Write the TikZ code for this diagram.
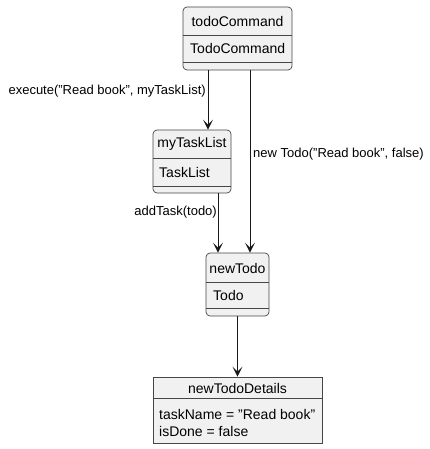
\documentclass[tikz,border=0pt]{standalone}
\usepackage{fontspec}
\setmainfont{Liberation Sans}
\usetikzlibrary{arrows.meta}
\definecolor{boxfill}{HTML}{F1F1F1}
\definecolor{boxline}{HTML}{181818}
\newcommand\dqt{\symbol{34}}
\tikzset{
  umlbox/.style={draw=boxline!80, fill=boxfill, line width=0.7pt, rounded corners=4pt, inner sep=0pt},
  objbox/.style={draw=boxline!80, fill=boxfill, line width=0.7pt, inner sep=0pt},
  sepline/.style={draw=boxline!80, line width=0.7pt},
  txt/.style={inner sep=0pt, font=\fontsize{14}{16}\selectfont},
  lbl/.style={inner sep=0pt, font=\fontsize{13}{15}\selectfont},
  arr/.style={draw=boxline, line width=1pt, -{Stealth[length=10pt, width=10pt, inset=5pt]}}
}
\begin{document}
\begin{tikzpicture}[x=1pt, y=-1pt]
\useasboundingbox (0,0) rectangle (430,449);
% boxes
\node[umlbox, minimum width=109pt, minimum height=63pt] (cmd) at (237.5,38.5) {};
\node[umlbox, minimum width=78pt, minimum height=63pt] (tl) at (192,161.5) {};
\node[umlbox, minimum width=63pt, minimum height=63pt] (todo) at (237.5,284.5) {};
\node[objbox, minimum width=169pt, minimum height=66pt] (det) at (237.5,410) {};
% separators
\draw[sepline] (cmd.west |- 0,35) -- (cmd.east |- 0,35);
\draw[sepline] (cmd.west |- 0,62) -- (cmd.east |- 0,62);
\draw[sepline] (tl.west |- 0,158) -- (tl.east |- 0,158);
\draw[sepline] (tl.west |- 0,186) -- (tl.east |- 0,186);
\draw[sepline] (todo.west |- 0,282) -- (todo.east |- 0,282);
\draw[sepline] (todo.west |- 0,308) -- (todo.east |- 0,308);
\draw[sepline] (det.west |- 0,398) -- (det.east |- 0,398);
% texts
\node[txt] (cmdT) at (237.5,21) {todoCommand};
\node[txt, anchor=west] (cmdA) at (190,48.5) {TodoCommand};
\node[txt] (tlT) at (192,144) {myTaskList};
\node[txt, anchor=west] (tlA) at (159,172) {TaskList};
\node[txt] (todoT) at (237.5,268) {newTodo};
\node[txt, anchor=west] (todoA) at (213,295) {Todo};
\node[txt] (detT) at (237.5,388.5) {newTodoDetails};
\node[txt, anchor=west] (detA1) at (159,414) {taskName = \dqt Read book\dqt};
\node[txt, anchor=west] (detA2) at (159,431) {isDone = false};
% connectors
\coordinate (a1) at (208,0);
\coordinate (a2) at (250,0);
\coordinate (a3) at (218,0);
\draw[arr] (cmd.south -| a1) -- (tl.north -| a1);
\draw[arr] (cmd.south -| a2) -- (todo.north -| a2);
\draw[arr] (tl.south -| a3) -- (todo.north -| a3);
\draw[arr] (todo.south) -- (det.north);
% labels
\node[lbl, anchor=east] (l1) at (206,91) {execute(\dqt Read book\dqt, myTaskList)};
\node[lbl, anchor=west] (l2) at (253,154) {new Todo(\dqt Read book\dqt, false)};
\node[lbl, anchor=east] (l3) at (217,212) {addTask(todo)};
\end{tikzpicture}
\end{document}
